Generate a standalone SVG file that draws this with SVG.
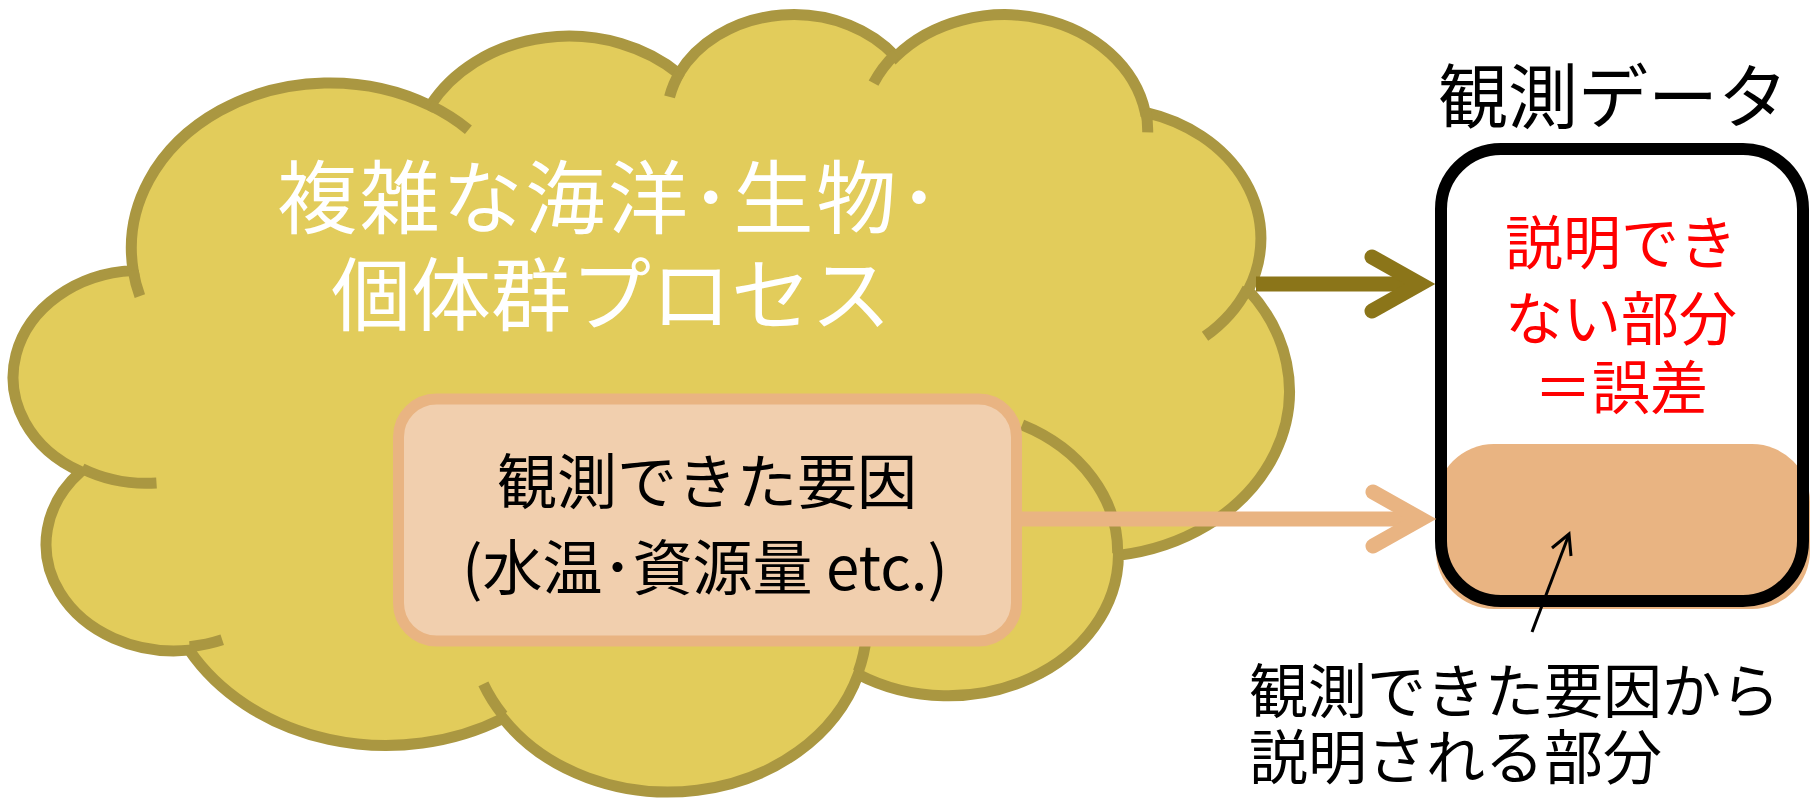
<svg xmlns="http://www.w3.org/2000/svg" width="1813" height="803" viewBox="0 0 1813 803">
<style>
.jp{font-family:"Noto Sans CJK JP","Noto Sans",sans-serif;}
.cloud{fill:#E2CC5B;stroke:#AA9741;stroke-width:11;vector-effect:non-scaling-stroke;}
.cloudin{fill:none;stroke:#AA9741;stroke-width:11;vector-effect:non-scaling-stroke;}
.dark{fill:none;stroke:#8B7519;stroke-width:15;}
.peach{fill:none;stroke:#E9B482;stroke-width:15;}
</style>
<rect width="1813" height="803" fill="#FFFFFF"/>
<g id="cloud-process">
  <g transform="translate(18.5,12) scale(0.029406,0.01799)">
    <path class="cloud" d="M3900 14370 A6753 9190 0 0 1 14005 5202 A5333 7267 0 0 1 22456 3431 A4365 5945 0 0 1 29834 2481 A4857 6595 0 0 1 38319 5576 A5333 7273 0 0 1 41819 15460 A6775 9220 0 0 1 37405 30203 A5785 7867 0 0 1 28557 36813 A6752 9215 0 0 1 16481 39264 A7720 10543 0 0 1 5806 35470 A4360 5918 0 0 1 2114 25548 A4345 5945 0 0 1 3900 14370 Z"/>
    <path class="cloudin" d="M4693 26177 A4345 5945 0 0 1 2160 25380 M6928 34899 A4360 5918 0 0 1 5820 35280 M16478 39090 A6752 9215 0 0 1 15810 37350 M28827 34751 A6752 9215 0 0 1 28560 36660 M34129 22954 A5785 7867 0 0 1 37380 30090 M41798 15354 A5333 7273 0 0 1 40350 18030 M38324 5426 A4857 6595 0 0 1 38400 6690 M29078 3952 A4857 6595 0 0 1 29820 2340 M22141 4720 A4365 5945 0 0 1 22500 3330 M14000 5192 A6753 9190 0 0 1 15300 6540 M4127 15789 A6753 9190 0 0 1 3900 14370"/>
  </g>
  <text class="jp" x="608" y="227" font-size="80" fill="#FFFFFF" text-anchor="middle" textLength="662" lengthAdjust="spacing">複雑な海洋･生物･</text>
  <text class="jp" x="611" y="324" font-size="80" fill="#FFFFFF" text-anchor="middle">個体群プロセス</text>
</g>
<g id="observed-factors">
  <rect x="398.5" y="399" width="618" height="242" rx="38" ry="38" fill="#F1CFAE" stroke="#E9B482" stroke-width="11"/>
  <text class="jp" x="707" y="504" font-size="60" fill="#000000" text-anchor="middle">観測できた要因</text>
  <text class="jp" x="705" y="590" font-size="60" fill="#000000" text-anchor="middle">(水温･資源量 etc.)</text>
</g>
<g id="observed-data">
  <text class="jp" x="1613" y="123" font-size="70" fill="#000000" text-anchor="middle">観測データ</text>
  <rect x="1436" y="444" width="374" height="165" rx="58" ry="58" fill="#E9B482"/>
  <rect x="1441" y="149" width="362" height="452" rx="60" ry="60" fill="none" stroke="#000000" stroke-width="12"/>
  <text class="jp" x="1621" y="264" font-size="58" fill="#FF0000" text-anchor="middle">説明でき</text>
  <text class="jp" x="1621" y="340" font-size="58" fill="#FF0000" text-anchor="middle">ない部分</text>
  <text class="jp" x="1621" y="409" font-size="58" fill="#FF0000" text-anchor="middle">＝誤差</text>
</g>
<g id="explained-label">
  <text class="jp" x="1249" y="713" font-size="59" fill="#000000">観測できた要因から</text>
  <text class="jp" x="1249" y="779" font-size="59" fill="#000000">説明される部分</text>
</g>
<g id="connectors">
  <line class="dark" x1="1256" y1="284" x2="1420" y2="284"/>
  <polyline class="dark" points="1372,257 1420,284 1372,311" stroke-linecap="round" stroke-linejoin="miter"/>
  <line class="peach" x1="1022" y1="519" x2="1421" y2="519"/>
  <polyline class="peach" points="1373,492 1421,519 1373,546" stroke-linecap="round" stroke-linejoin="miter"/>
  <line x1="1532" y1="632" x2="1568" y2="537" stroke="#000000" stroke-width="3"/>
  <polyline points="1552,548 1569,534 1571,556" fill="none" stroke="#000000" stroke-width="3"/>
</g>
</svg>
